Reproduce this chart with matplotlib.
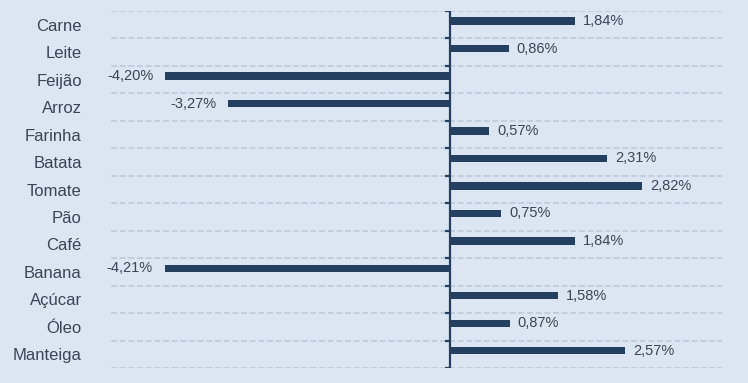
import matplotlib
matplotlib.use("Agg")
import matplotlib.pyplot as plt
import numpy as np

categories = ["Carne", "Leite", "Feijão", "Arroz", "Farinha", "Batata", "Tomate",
              "Pão", "Café", "Banana", "Açúcar", "Óleo", "Manteiga"]
values = [1.84, 0.86, -4.20, -3.27, 0.57, 2.31, 2.82, 0.75, 1.84, -4.21, 1.58, 0.87, 2.57]
value_labels = ["1,84%", "0,86%", "-4,20%", "-3,27%", "0,57%", "2,31%", "2,82%",
                "0,75%", "1,84%", "-4,21%", "1,58%", "0,87%", "2,57%"]

bg = "#dce6f2"
bar_color = "#243f60"
text_color = "#3a4555"
grid_color = "#bccadc"

plt.rcParams['font.family'] = ['Liberation Sans', 'DejaVu Sans']

fig = plt.figure(figsize=(7.48, 3.83), dpi=100, facecolor=bg)
ax = fig.add_axes([111/748, 1 - 368/383, (722-111)/748, (368-11)/383])
ax.set_facecolor(bg)

n = len(categories)
y = np.arange(n)
offset = -0.13
ax.barh(y + offset, values, height=0.27, color=bar_color, zorder=3)

ax.set_xlim(-5, 4)
ax.set_ylim(n - 0.5, -0.5)

for yi, v, lab in zip(y, values, value_labels):
    if v >= 0:
        ax.annotate(lab, (v, yi + offset), xytext=(8, 0), textcoords="offset pixels",
                    ha="left", va="center", fontsize=10.5, color=text_color)
    else:
        ax.annotate(lab, (v, yi + offset), xytext=(-12, 0), textcoords="offset pixels",
                    ha="right", va="center", fontsize=10.5, color=text_color)

# gridlines at band boundaries
for b in np.arange(-0.5, n + 0.5, 1):
    ax.axhline(b, color=grid_color, linestyle=(0, (3.6, 1.6)), linewidth=1.2, zorder=1)

for s in ax.spines.values():
    s.set_visible(False)

ax.axvline(0, color=bar_color, linewidth=1.6, zorder=4)
for b in np.arange(-0.5, n + 0.5, 1):
    ax.plot([-0.075, 0], [b, b], color=bar_color, linewidth=1.6, zorder=4, solid_capstyle="butt")

ax.set_xticks([])
ax.set_yticks(y)
ax.set_yticklabels(categories, fontsize=12, color=text_color)
ax.tick_params(axis="y", length=0, pad=21)

fig.savefig("out.png", dpi=100, facecolor=bg)
